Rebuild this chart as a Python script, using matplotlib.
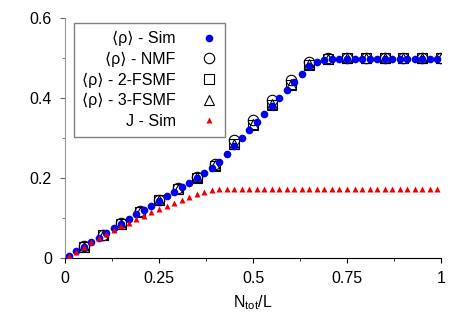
import matplotlib
matplotlib.use("Agg")
import matplotlib.pyplot as plt
from matplotlib.ticker import MultipleLocator

plt.rcParams['font.family'] = ['Liberation Sans', 'DejaVu Sans']
plt.rcParams['mathtext.fontset'] = 'custom'
plt.rcParams['mathtext.rm'] = 'Liberation Sans'
plt.rcParams['mathtext.it'] = 'Liberation Sans'

# simulation points (density N_tot/L)
x_sim = [0.01, 0.03, 0.05, 0.07, 0.09, 0.11, 0.13, 0.15, 0.17, 0.19,
         0.21, 0.23, 0.25, 0.27, 0.29, 0.31, 0.33, 0.35, 0.37, 0.39,
         0.41, 0.43, 0.45, 0.47, 0.49, 0.51, 0.53, 0.55, 0.57, 0.59,
         0.61, 0.63, 0.65, 0.67, 0.69, 0.71, 0.73, 0.75, 0.77, 0.79,
         0.81, 0.83, 0.85, 0.87, 0.89, 0.91, 0.93, 0.95, 0.97, 0.99]
rho_sim = [0.006, 0.018, 0.029, 0.040, 0.051, 0.063, 0.075, 0.087, 0.098, 0.110,
           0.121, 0.132, 0.144, 0.156, 0.166, 0.178, 0.189, 0.201, 0.213, 0.227,
           0.242, 0.262, 0.281, 0.301, 0.321, 0.341, 0.361, 0.381, 0.401, 0.421,
           0.441, 0.461, 0.482, 0.492, 0.497, 0.498, 0.498, 0.498, 0.498, 0.498,
           0.498, 0.498, 0.498, 0.498, 0.498, 0.498, 0.498, 0.498, 0.498, 0.498]
j_sim = [0.006, 0.017, 0.028, 0.040, 0.051, 0.060, 0.071, 0.080, 0.089, 0.098,
         0.107, 0.115, 0.123, 0.132, 0.139, 0.146, 0.153, 0.161, 0.166, 0.170,
         0.173, 0.174, 0.174, 0.174, 0.174, 0.174, 0.174, 0.174, 0.174, 0.174,
         0.174, 0.174, 0.174, 0.174, 0.174, 0.174, 0.174, 0.174, 0.174, 0.174,
         0.174, 0.174, 0.174, 0.174, 0.174, 0.174, 0.174, 0.174, 0.174, 0.174]

# mean-field points
x_mf = [0.05, 0.10, 0.15, 0.20, 0.25, 0.30, 0.35, 0.40, 0.45, 0.50,
        0.55, 0.60, 0.65, 0.70, 0.75, 0.80, 0.85, 0.90, 0.95, 1.00]
rho_nmf = [0.030, 0.059, 0.088, 0.118, 0.147, 0.175, 0.204, 0.237, 0.296, 0.346,
           0.396, 0.446, 0.491, 0.500, 0.500, 0.500, 0.500, 0.500, 0.500, 0.500]
rho_2fs = [0.029, 0.058, 0.087, 0.116, 0.145, 0.173, 0.202, 0.232, 0.285, 0.334,
           0.384, 0.434, 0.484, 0.499, 0.500, 0.500, 0.500, 0.500, 0.500, 0.500]
rho_3fs = [0.029, 0.058, 0.087, 0.117, 0.146, 0.174, 0.203, 0.233, 0.287, 0.336,
           0.386, 0.436, 0.485, 0.499, 0.500, 0.500, 0.500, 0.500, 0.500, 0.500]

labels = ['⟨ρ⟩ - Sim', '⟨ρ⟩ - NMF', '⟨ρ⟩ - 2-FSMF', '⟨ρ⟩ - 3-FSMF', 'J - Sim']

fig = plt.figure(figsize=(4.69, 3.28), dpi=100)
ax = fig.add_axes([0.1386, 0.2125, 0.8017, 0.7315])

l1, = ax.plot(x_sim, rho_sim, 'o', color='#0000ee', ms=5.5, mec='none', zorder=4)
l2, = ax.plot(x_mf, rho_nmf, 'o', mfc='none', mec='black', ms=7.5, mew=0.8, zorder=3)
l3, = ax.plot(x_mf, rho_2fs, 's', mfc='none', mec='black', ms=7, mew=0.8, zorder=3)
l4, = ax.plot(x_mf, rho_3fs, '^', mfc='none', mec='black', ms=7.5, mew=0.8, zorder=3)
l5, = ax.plot(x_sim, j_sim, '^', color='#ee0000', ms=4.5, mec='none', zorder=5)

ax.set_xlim(0, 1)
ax.set_ylim(0, 0.6)
ax.xaxis.set_minor_locator(MultipleLocator(0.125))
ax.yaxis.set_minor_locator(MultipleLocator(0.1))
ax.set_yticks([0, 0.2, 0.4, 0.6])
ax.set_yticklabels(['0', '0.2', '0.4', '0.6'])
ax.set_xticks([0, 0.25, 0.5, 0.75, 1])
ax.set_xticklabels(['0', '0.25', '0.5', '0.75', '1'])

ax.spines['top'].set_visible(False)
ax.spines['right'].set_visible(False)
ax.spines['left'].set_color('#999999')
ax.spines['bottom'].set_color('black')
ax.tick_params(which='major', direction='out', length=3.5, labelsize=11.5, pad=6)
ax.tick_params(which='minor', direction='out', length=2)
ax.tick_params(axis='y', which='both', color='#666666')

ax.set_xlabel(r'N$_\mathregular{tot}$/L', fontsize=11.5, labelpad=5)

leg = ax.legend([l1, l2, l3, l4, l5], labels,
                loc='upper left', bbox_to_anchor=(0.024, 0.98), borderaxespad=0,
                markerfirst=False, fancybox=False, framealpha=1, fontsize=11.5,
                labelspacing=0.35, handlelength=1.0, handletextpad=1.6,
                borderpad=0.5)
for t in leg.get_texts():
    t.set_ha('right')
leg.get_frame().set_edgecolor('#808080')
leg.get_frame().set_linewidth(1.0)

fig.savefig('out.png', dpi=100)
